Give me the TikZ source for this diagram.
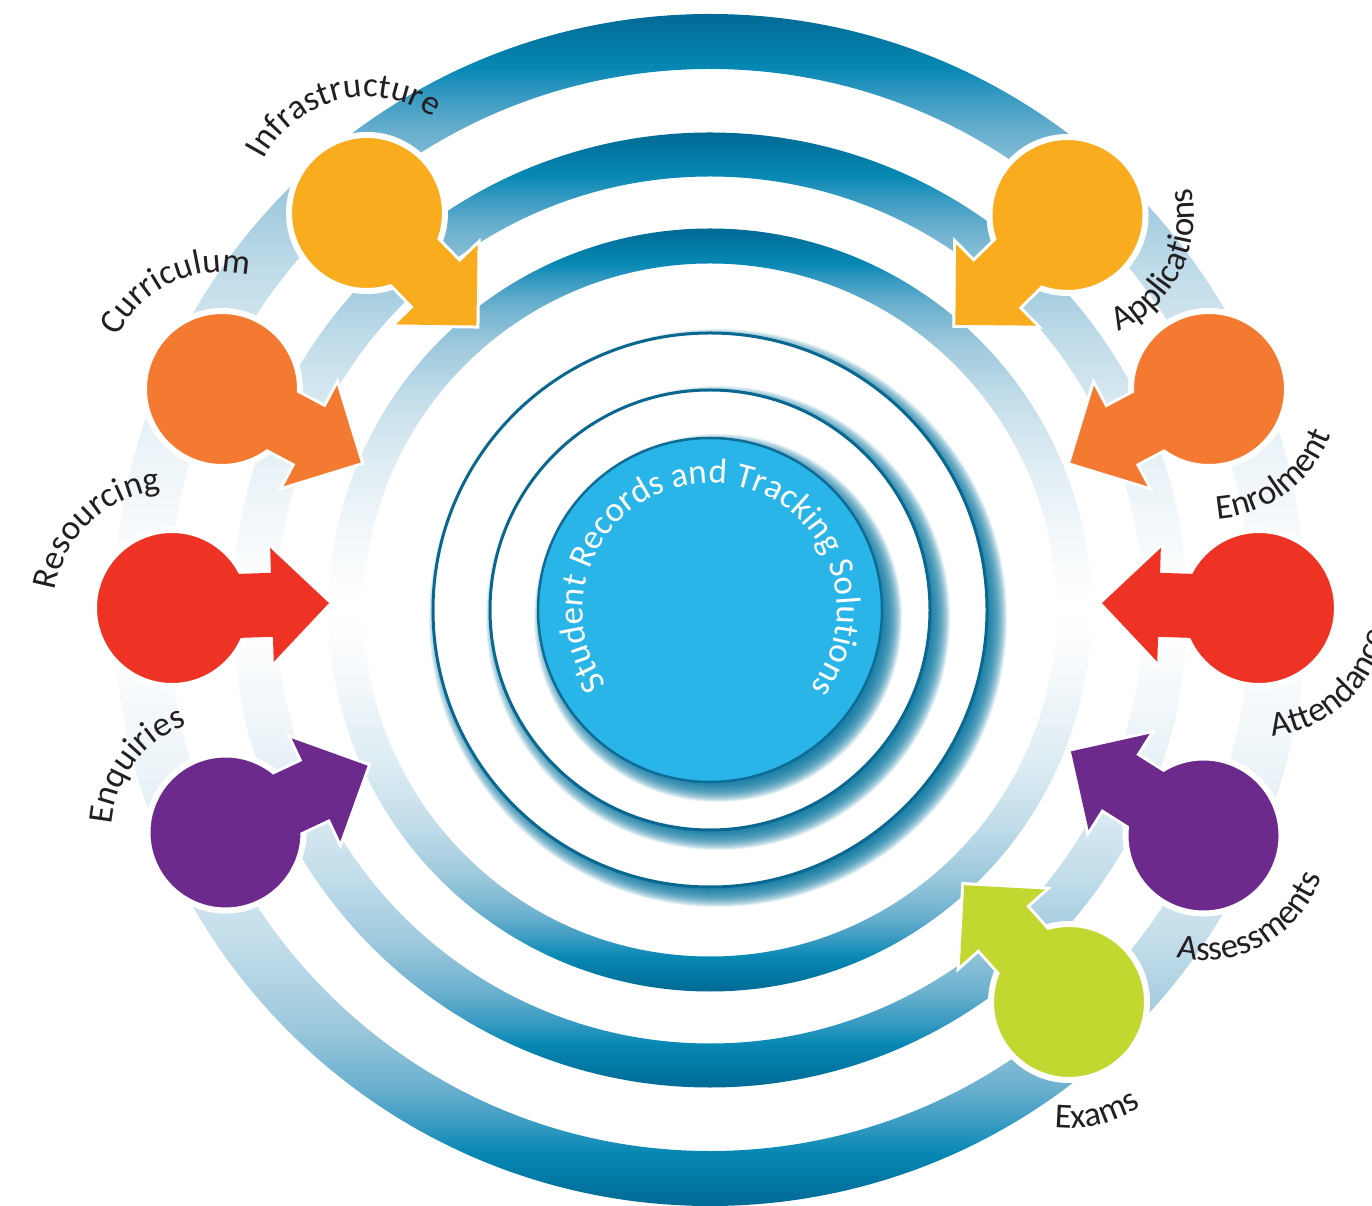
\documentclass[tikz,border=0pt]{standalone}
\usepackage{fontspec}
\setmainfont{Carlito}
\newfontfamily\lblfont{Carlito}
\newfontfamily\corefont{Carlito}
\usetikzlibrary{decorations.text}
\definecolor{rdark}{HTML}{006A95}
\definecolor{rA}{HTML}{0688B3}
\definecolor{rB}{HTML}{3A9BC2}
\definecolor{rC}{HTML}{6BB0CE}
\definecolor{rD}{HTML}{9CC8DC}
\definecolor{rE}{HTML}{C2DDEA}
\definecolor{rF}{HTML}{DDECF3}
\definecolor{rG}{HTML}{EEF5F9}
\definecolor{rH}{HTML}{FAFCFD}
\definecolor{cyel}{HTML}{F9AC1E}
\definecolor{corg}{HTML}{F37A30}
\definecolor{cred}{HTML}{EE3224}
\definecolor{cpur}{HTML}{6C2A8C}
\definecolor{clim}{HTML}{C2D72F}
\definecolor{ccore}{HTML}{29B5E8}
\definecolor{coreline}{HTML}{0E6C96}
\definecolor{ringline}{HTML}{0A6890}
\definecolor{shdw}{HTML}{0A78A2}
\definecolor{txt}{HTML}{231F20}
\pgfdeclareverticalshading{ringsh}{100bp}{color(0bp)=(rdark); color(25bp)=(rdark); color(27.25bp)=(rA); color(28.5bp)=(rB); color(30bp)=(rC); color(32.5bp)=(rD); color(36bp)=(rE); color(40bp)=(rF); color(44bp)=(rG); color(47.5bp)=(rH); color(50bp)=(white); color(52.5bp)=(rH); color(56bp)=(rG); color(60bp)=(rF); color(64bp)=(rE); color(67.5bp)=(rD); color(70bp)=(rC); color(71.5bp)=(rB); color(72.75bp)=(rA); color(75bp)=(rdark); color(100bp)=(rdark)}
\newcommand\lblsize{\fontsize{35}{40}\selectfont}
\newcommand\softshadow[2]{%
  \foreach \k in {-12,-11,...,12} {\fill[shdw, opacity=0.1] ([shift={(8,-8)}]#1) circle[radius=#2+\k];}}
\newcommand\mkbubble[4]{%
  \begin{scope}[shift={#2}, rotate=#3]
    \path[draw=white, line width=6pt, line join=miter] (0,-32) -- (100,-32) -- (100,-57) -- (157,0) -- (100,57) -- (100,32) -- (0,32);
  \end{scope}
  \node (#1) [bubble, fill=#4] at #2 {};
  \begin{scope}[shift={#2}, rotate=#3]
    \fill[#4] (0,-32) -- (100,-32) -- (100,-57) -- (157,0) -- (100,57) -- (100,32) -- (0,32) -- cycle;
  \end{scope}}
\newcommand\lblcw[4]{%
  \path[decorate, decoration={text along path, text align=center, text color=txt, text={|\lblfont\lblsize|#3}}]
    ([shift={(#2+75:#4)}]#1.center) arc[start angle=#2+75, end angle=#2-75, radius=#4];}
\newcommand\lblccw[4]{%
  \path[decorate, decoration={text along path, text align=center, text color=txt, text={|\lblfont\lblsize|#3}}]
    ([shift={(#2-75:#4)}]#1.center) arc[start angle=#2-75, end angle=#2+75, radius=#4];}
\begin{document}
\begin{tikzpicture}[x=1pt, y=1pt,
  bubble/.style={circle, minimum size=156pt, inner sep=0pt, draw=white, line width=6pt},
  thinring/.style={circle, draw=ringline, line width=3pt, fill=white, inner sep=0pt}]
\useasboundingbox (0,0) rectangle (1372,1205);
\clip (0,0) rectangle (1372,1205);
\fill[white] (0,0) rectangle (1372,1205);
\coordinate (O) at (710,595);
% gradient rings
\shade[shading=ringsh, even odd rule] (O) circle[radius=596] (O) circle[radius=541];
\shade[shading=ringsh, even odd rule] (O) circle[radius=477.5] (O) circle[radius=433.5];
\shade[shading=ringsh, even odd rule] (O) circle[radius=381.5] (O) circle[radius=346.5];
% thin rings with shadows
\softshadow{O}{277}
\node (outerc) [thinring, minimum size=554pt] at (O) {};
\softshadow{O}{220}
\node (midc) [thinring, minimum size=440pt] at (O) {};
\softshadow{O}{172}
\node (core) [circle, fill=ccore, draw=coreline, line width=2.5pt, minimum size=344pt, inner sep=0pt] at (O) {};
\path[decorate, decoration={text along path, text align=center, text color=white, text={|\corefont\lblsize|Student Records and Tracking Solutions}}]
  ([shift={(239:127)}]core.center) arc[start angle=239, end angle=-61, radius=127];
% bubbles
\mkbubble{infra}{(367,992)}{-45.8}{cyel}
\mkbubble{appl}{(1067.5,990)}{224.4}{cyel}
\mkbubble{curr}{(222,816)}{-27.9}{corg}
\mkbubble{enrol}{(1209,816)}{208}{corg}
\mkbubble{resrc}{(172,597)}{1.8}{cred}
\mkbubble{attend}{(1259,597)}{178.2}{cred}
\mkbubble{enq}{(225.5,372.5)}{25.2}{cpur}
\mkbubble{assess}{(1203.5,369.5)}{147.6}{cpur}
\mkbubble{exams}{(1069,203)}{131.9}{clim}
% labels
\lblcw{infra}{104}{Infrastructure}{116}
\lblcw{curr}{115}{Curriculum}{117}
\lblcw{resrc}{133.5}{Resourcing}{118}
\lblcw{enq}{143}{Enquiries}{114}
\lblccw{appl}{-27}{Applications}{127}
\lblccw{enrol}{-53.5}{Enrolment}{130}
\lblccw{assess}{-61}{Assessments}{125}
\lblccw{exams}{-76}{Exams}{126}
\path[decorate, decoration={text along path, text color=txt, text={|\lblfont\lblsize|Attendance}}]
  ([shift={(-84:129)}]attend.center) arc[start angle=-84, end angle=30, radius=129];
\end{tikzpicture}
\end{document}
